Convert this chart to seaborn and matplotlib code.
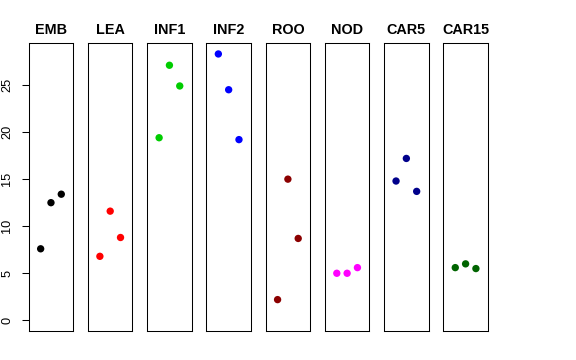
import matplotlib
matplotlib.use("Agg")
import matplotlib.pyplot as plt
import pandas as pd
import seaborn as sns

# --- data ---
tissues = ["EMB", "LEA", "INF1", "INF2", "ROO", "NOD", "CAR5", "CAR15"]
colors = ["#000000", "#FF0000", "#00CD00", "#0000FF",
          "#8B0000", "#FF00FF", "#00008B", "#006400"]
rep1 = [7.6, 6.8, 19.4, 28.3, 2.2, 5.0, 14.8, 5.6]
rep2 = [12.5, 11.6, 27.1, 24.5, 15.0, 5.0, 17.2, 6.0]
rep3 = [13.4, 8.8, 24.9, 19.2, 8.7, 5.6, 13.7, 5.5]
yticks = [0, 5, 10, 15, 20, 25]

rows = []
for t, a, b, c in zip(tissues, rep1, rep2, rep3):
    for i, v in enumerate([a, b, c], start=1):
        rows.append({"tissue": t, "rep": i, "value": v})
df = pd.DataFrame(rows)

sns.set_style("white")
plt.rcParams["font.family"] = ["Liberation Sans", "DejaVu Sans"]
plt.rcParams["text.color"] = "black"
plt.rcParams["ytick.color"] = "black"

fig, axes = plt.subplots(1, len(tissues), figsize=(5.76, 3.6), dpi=100, sharey=True)
fig.subplots_adjust(left=0.0498, right=0.847, bottom=0.0806, top=0.8797, wspace=0.329)

ymax = max(max(rep1), max(rep2), max(rep3))
pad = 0.04 * ymax

for ax, t, col in zip(axes, tissues, colors):
    sub = df[df["tissue"] == t]
    sns.scatterplot(data=sub, x="rep", y="value", ax=ax, color=col,
                    s=28, edgecolor="none", legend=False)
    ax.set_xlim(-0.16, 4.16)
    ax.set_ylim(-pad, ymax + pad)
    ax.set_xticks([])
    ax.set_xlabel("")
    ax.set_ylabel("")
    ax.set_title(t, fontsize=10.4, fontweight="bold", pad=6.5, color="black")
    for sp in ax.spines.values():
        sp.set_visible(True)
        sp.set_color("black")
        sp.set_linewidth(0.75)

axes[0].set_yticks(yticks)
axes[0].tick_params(axis="y", left=True, length=5, width=0.75, pad=6,
                    labelsize=9.2, labelrotation=90, colors="black")
for lab in axes[0].get_yticklabels():
    lab.set_verticalalignment("center")
for ax in axes[1:]:
    ax.tick_params(axis="y", left=False, labelleft=False)

fig.savefig("out.png", dpi=100)
